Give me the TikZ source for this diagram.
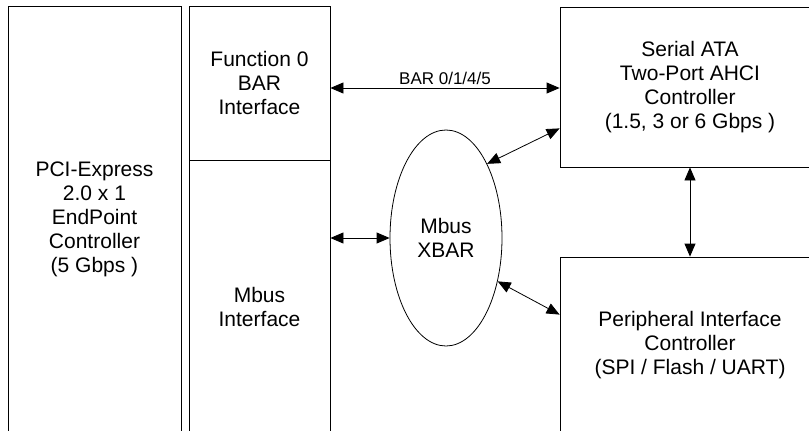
\documentclass[tikz,border=0pt]{standalone}
\usepackage{fontspec}
\setmainfont{Liberation Sans}
\usepackage{tikz}
\usetikzlibrary{shapes.geometric,arrows.meta,calc}

\tikzset{
  blk/.style={draw,line width=0.8pt,inner sep=0pt,align=center,
    font=\fontsize{21}{24}\selectfont},
  dbl/.style={line width=0.8pt,
    {Triangle[length=13pt,width=11pt]}-{Triangle[length=13pt,width=11pt]}},
}

\begin{document}
\begin{tikzpicture}[x=1pt,y=-1pt]
\useasboundingbox (0,0) rectangle (809,431);
\clip (0,0) rectangle (809,431);

% PCIe side
\node[blk,minimum width=173,minimum height=427] (pcie) at (94.5,219.5)
  {PCI-Express\\2.0 x 1\\EndPoint\\Controller\\(5 Gbps )};
\node[blk,minimum width=141,minimum height=154] (func0) at (259.5,83)
  {Function 0\\BAR\\Interface};
\node[blk,minimum width=141,minimum height=294] (mbusif) at (259.5,307)
  {Mbus\\Interface};

% crossbar
\node[blk,ellipse,minimum width=112,minimum height=216] (xbar) at (446,238)
  {Mbus\\XBAR};

% controllers
\node[blk,minimum width=260,minimum height=160] (sata) at (690,87)
  {Serial ATA\\Two-Port AHCI\\Controller\\(1.5, 3 or 6 Gbps )};
\node[blk,minimum width=260,minimum height=176] (periph) at (690,345)
  {Peripheral Interface\\Controller\\(SPI / Flash / UART)};

% links
\draw[dbl] ([yshift=-5pt]func0.east) -- ([yshift=-5pt]func0.east -| sata.west)
  node[midway,above,font=\fontsize{17}{20}\selectfont]{BAR 0/1/4/5};
\draw[dbl] (xbar.west -| mbusif.east) -- (xbar.west);
\draw[dbl] (xbar.61) -- ([yshift=39pt]sata.south west);
\draw[dbl] (xbar.-40) -- ([yshift=-58pt]periph.north west);
\draw[dbl] (sata.south) -- (periph.north);
\end{tikzpicture}
\end{document}
